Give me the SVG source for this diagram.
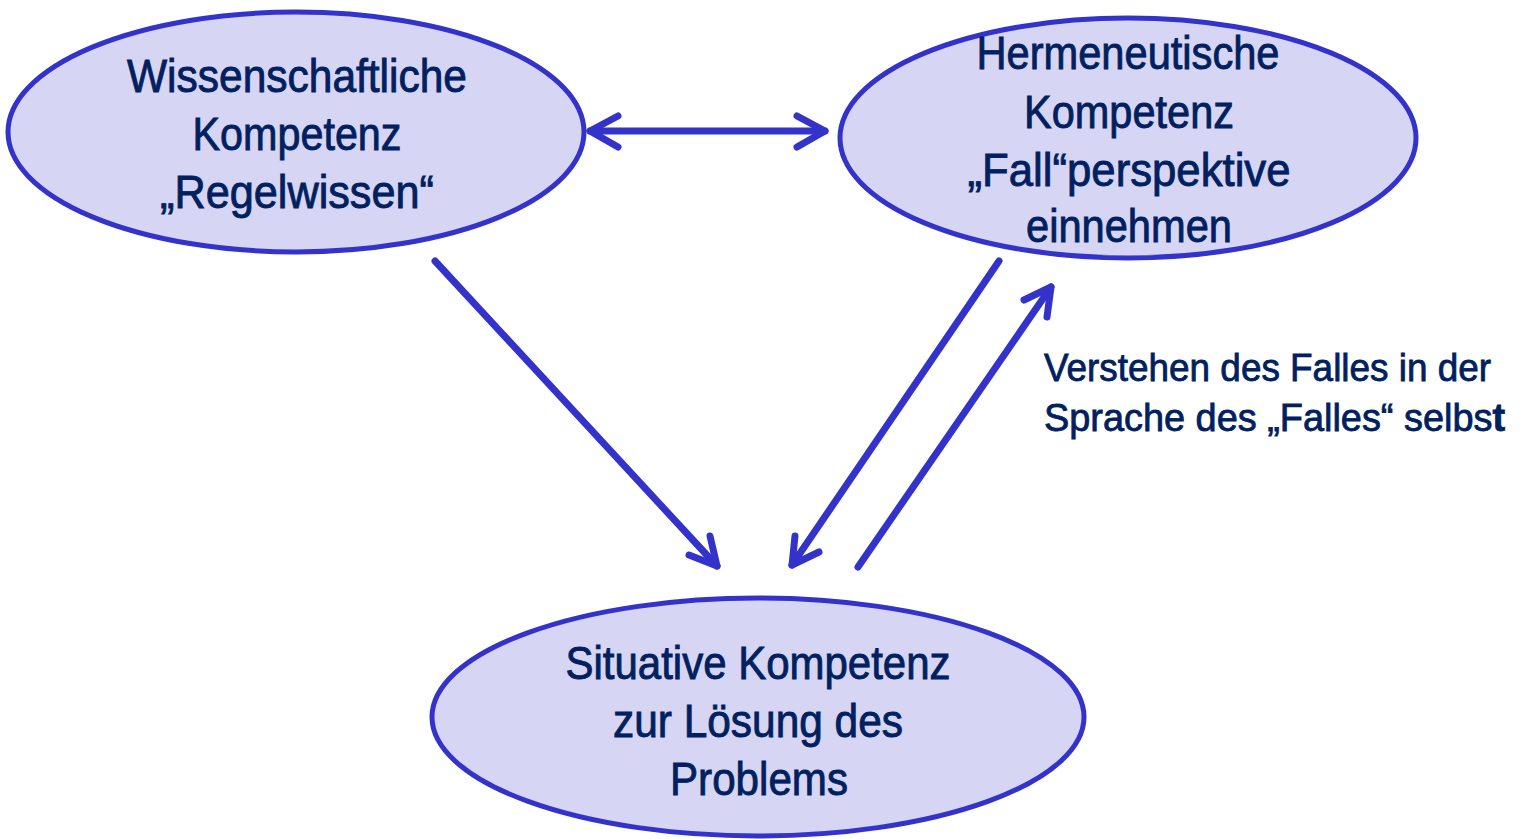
<svg xmlns="http://www.w3.org/2000/svg" width="1521" height="839" viewBox="0 0 1521 839">
<style>
.node{fill:#D6D6F4;stroke:#3333CC;stroke-width:5}
.t{font-family:"Liberation Sans Narrow","Arial Narrow","Liberation Sans",Arial,sans-serif;font-size:47px;fill:#002060;stroke:#002060;stroke-width:0.9;text-anchor:middle}
.lbl{font-family:"Liberation Sans Narrow","Arial Narrow","Liberation Sans",Arial,sans-serif;font-size:38px;fill:#002060;stroke:#002060;stroke-width:0.8}
.c{fill:none;stroke:#3333CC;stroke-width:7;stroke-linecap:round;stroke-linejoin:round}
</style>
<rect width="1521" height="839" fill="#FFFFFF"/>
<g id="node-wissenschaftlich">
<ellipse class="node" cx="296" cy="132" rx="288" ry="120"/>
<text class="t" x="297" y="92" textLength="340" lengthAdjust="spacingAndGlyphs">Wissenschaftliche</text>
<text class="t" x="297" y="150" textLength="209" lengthAdjust="spacingAndGlyphs">Kompetenz</text>
<text class="t" x="297" y="208" textLength="274" lengthAdjust="spacingAndGlyphs">„Regelwissen“</text>
</g>
<g id="node-hermeneutisch">
<ellipse class="node" cx="1128" cy="138" rx="288" ry="120"/>
<text class="t" x="1128" y="69" textLength="303" lengthAdjust="spacingAndGlyphs">Hermeneutische</text>
<text class="t" x="1129" y="128" textLength="210" lengthAdjust="spacingAndGlyphs">Kompetenz</text>
<text class="t" x="1129" y="186" textLength="323" lengthAdjust="spacingAndGlyphs">„Fall“perspektive</text>
<text class="t" x="1129" y="242" textLength="206" lengthAdjust="spacingAndGlyphs">einnehmen</text>
</g>
<g id="node-situativ">
<ellipse class="node" cx="758" cy="717" rx="326" ry="119"/>
<text class="t" x="758" y="679" textLength="385" lengthAdjust="spacingAndGlyphs">Situative Kompetenz</text>
<text class="t" x="758" y="737" textLength="290" lengthAdjust="spacingAndGlyphs">zur Lösung des</text>
<text class="t" x="759" y="795" textLength="178" lengthAdjust="spacingAndGlyphs">Problems</text>
</g>
<g id="connectors">
<line class="c" x1="590" y1="131" x2="825" y2="131"/>
<polyline class="c" points="618,116 590,131 618,147"/>
<polyline class="c" points="797,116 825,131 797,147"/>
<line class="c" x1="435" y1="261" x2="717" y2="566"/>
<polyline class="c" points="710,536 717,566 689,555"/>
<line class="c" x1="999" y1="261" x2="792" y2="565"/>
<polyline class="c" points="795,536 792,565 819,552"/>
<line class="c" x1="858" y1="567" x2="1051" y2="287"/>
<polyline class="c" points="1024,300 1051,287 1047,317"/>
</g>
<g id="label-verstehen">
<text class="lbl" x="1044" y="381" textLength="447" lengthAdjust="spacingAndGlyphs">Verstehen des Falles in der</text>
<text class="lbl" x="1044" y="431" textLength="461" lengthAdjust="spacingAndGlyphs">Sprache des „Falles“ selbs<tspan font-weight="bold">t</tspan></text>
</g>
</svg>
